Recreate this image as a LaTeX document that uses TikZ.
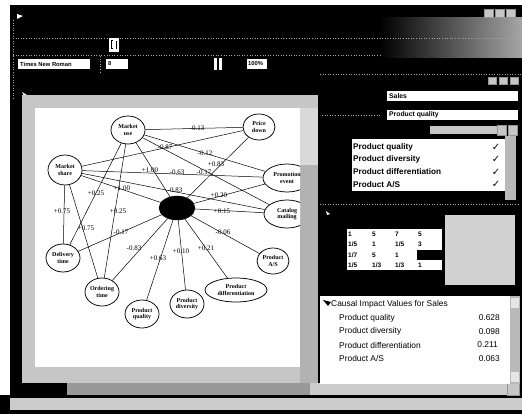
\documentclass[tikz,border=0pt]{standalone}
\usepackage{fontspec}
\setmainfont{Liberation Serif}
\setsansfont{Liberation Sans}
\newfontfamily\symfont{DejaVu Sans}
\usetikzlibrary{shapes.geometric}
\begin{document}
\begin{tikzpicture}[x=1pt,y=-1pt,
  nd/.style={draw, ellipse, line width=0.75pt, fill=white, inner sep=0pt, align=center,
     font=\fontsize{6}{6.4}\selectfont\bfseries},
  lk/.style={line width=0.5pt},
  wt/.style={font=\fontsize{7}{7}\selectfont, inner sep=0pt},
  fld/.style={font=\sffamily\bfseries\fontsize{5.8}{6}\selectfont, anchor=west, inner sep=0pt},
  fldl/.style={font=\sffamily\bfseries\fontsize{6.8}{7}\selectfont, anchor=west, inner sep=0pt},
  chk/.style={font=\sffamily\bfseries\fontsize{8.2}{8.5}\selectfont, anchor=west, inner sep=0pt},
  mx/.style={font=\sffamily\bfseries\fontsize{6.5}{7}\selectfont, anchor=west, inner sep=0pt},
  civ/.style={font=\sffamily\fontsize{8.4}{9}\selectfont, anchor=west, inner sep=0pt},
  cnum/.style={font=\sffamily\fontsize{8.4}{9}\selectfont, anchor=east, inner sep=0pt},
  btn/.style={draw=gray!85, fill=gray!45, line width=0.4pt},
  sep/.style={gray!70, dotted, line width=0.6pt}]
\useasboundingbox (0,0) rectangle (522,414);

% ---------- window background ----------
\fill[black] (0,0) rectangle (522,414);
\fill[white] (0,0) rectangle (522,5);
\fill[white] (0,0) rectangle (10,395);
\shade[left color=black, right color=gray!70] (380,18) rectangle (522,58);
\foreach \x in {484,495,506} \draw[btn] (\x,9) rectangle +(9,8);
\fill[white] (17,14) -- (23,16) -- (17,19) -- cycle;

% ---------- toolbars ----------
\draw[sep] (13,38) -- (520,38);
\draw[sep] (13,55) -- (380,55);
\draw[sep] (13,20) -- (13,100);
\fill[white] (109,38) rectangle (119,52);
\draw[black, line width=1pt] (113,41) -- (111,41) -- (111,49) -- (113,49);
\draw[black, line width=1pt] (116,41) -- (116,49);
\draw[sep] (100,56) -- (100,72);
\fill[white] (18,59) rectangle (90,69);
\node[fld] (fontname) at (20,64) {Times New Roman};
\fill[white] (106,59) rectangle (128,69);
\node[fld] (fontsize) at (108,64) {8};
\fill[white] (214,58) rectangle (217,70);
\fill[white] (219,58) rectangle (222,70);
\fill[white] (247,59) rectangle (267,69);
\node[fld] (zoomval) at (248,64) {100\%};
\fill[white] (22,92) -- (27,95) -- (24,96) -- cycle;

% ---------- diagram canvas ----------
\fill[gray!45] (22,95) rectangle (318,383);
\fill[gray!30] (300,108) rectangle (318,165);
\fill[gray!60] (300,165) rectangle (318,383);
\fill[white] (35,108) rectangle (300,367);

\begin{scope}
\clip (35,108) rectangle (300,367);
\node[nd, minimum width=34, minimum height=28] (mu) at (128,130) {Market\\use};
\node[nd, minimum width=32, minimum height=26] (pd) at (259,127) {Price\\down};
\node[nd, minimum width=34, minimum height=30] (ms) at (65,170) {Market\\share};
\node[nd, minimum width=48, minimum height=28] (pe) at (287,178) {Promotion\\event};
\node[nd, minimum width=46, minimum height=28] (cm) at (287,214) {Catalog\\mailing};
\node[draw, ellipse, fill=black, minimum width=36, minimum height=24, inner sep=0pt] (sales) at (177,208) {};
\node[nd, minimum width=34, minimum height=28] (dt) at (63,258) {Delivery\\time};
\node[nd, minimum width=34, minimum height=28] (ot) at (102,292) {Ordering\\time};
\node[nd, minimum width=34, minimum height=28] (pq) at (142,314) {Product\\quality};
\node[nd, minimum width=34, minimum height=28] (pv) at (187,304) {Product\\diversity};
\node[nd, minimum width=62, minimum height=24] (pf) at (236,290) {Product\\differentiation};
\node[nd, minimum width=32, minimum height=26] (pa) at (273,261) {Product\\A/S};

\draw[lk] (mu) -- (pd);
\draw[lk] (ms) -- (pd);
\draw[lk] (mu) -- (pe);
\draw[lk] (mu) -- (cm);
\draw[lk] (pd) -- (sales);
\draw[lk] (mu) -- (sales);
\draw[lk] (ms) -- (pe);
\draw[lk] (ms) -- (sales);
\draw[lk] (ms) -- (cm);
\draw[lk] (ms) -- (dt);
\draw[lk] (ms) -- (ot);
\draw[lk] (mu) -- (dt);
\draw[lk] (mu) -- (ot);
\draw[lk] (sales) -- (pe);
\draw[lk] (sales) -- (cm);
\draw[lk] (sales) -- (dt);
\draw[lk] (sales) -- (ot);
\draw[lk] (sales) -- (pq);
\draw[lk] (sales) -- (pv);
\draw[lk] (sales) -- (pf);
\draw[lk] (sales) -- (pa);

\node[wt] (w1) at (197,128) {-0.13};
\node[wt] (w2) at (165,147) {-0.87};
\node[wt] (w3) at (205,153) {-0.12};
\node[wt] (w4) at (216,164) {+0.83};
\node[wt] (w5) at (150,170) {+1.00};
\node[wt] (w6) at (177,172) {-0.63};
\node[wt] (w7) at (204,172) {-0.17};
\node[wt] (w8) at (122,188) {+1.00};
\node[wt] (w9) at (96,193) {+0.25};
\node[wt] (w10) at (175,190) {-0.83};
\node[wt] (w11) at (219,195) {+0.20};
\node[wt] (w12) at (62,211) {+0.75};
\node[wt] (w13) at (118,211) {+0.25};
\node[wt] (w14) at (222,211) {+0.15};
\node[wt] (w15) at (86,228) {+0.75};
\node[wt] (w16) at (121,232) {-0.17};
\node[wt] (w17) at (223,232) {-0.06};
\node[wt] (w18) at (134,248) {-0.83};
\node[wt] (w19) at (206,248) {+0.21};
\node[wt] (w20) at (181,251) {+0.10};
\node[wt] (w21) at (158,258) {+0.63};
\end{scope}

% ---------- scroll bars under the canvas ----------
\fill[black] (10,383) rectangle (67,395);
\fill[gray!80] (67,383) rectangle (310,395);
\fill[gray!40] (310,383) rectangle (507,395);
\draw[btn] (507,383) rectangle (519,395);
\fill[gray!40] (10,398) rectangle (522,410);

% ---------- right-hand panel ----------
\draw[sep] (320,74) -- (522,74);
\foreach \x in {488,499,510} \draw[btn] (\x,77) rectangle +(8,7);
\fill[white] (387,91) rectangle (518,101);
\node[fldl] (target) at (389,96) {Sales};
\draw[sep] (322,115) -- (380,115);
\fill[white] (387,110) rectangle (518,120);
\node[fldl] (factor) at (389,115) {Product quality};
\fill[gray!45] (430,126) rectangle (500,134);
\draw[btn] (497,125) rectangle (506,135);
\draw[btn] (508,125) rectangle (517,135);

\fill[gray!55] (505,136) rectangle (516,200);
\fill[white] (352,139) rectangle (505,191);
\node[chk] (c1) at (353,147) {Product quality};
\node[chk] (c2) at (353,159.5) {Product diversity};
\node[chk] (c3) at (353,172) {Product differentiation};
\node[chk] (c4) at (353,184.5) {Product A/S};
\foreach \y in {147,159.5,172,184.5}
  \node[font=\symfont\bfseries\fontsize{10}{10}\selectfont, inner sep=0pt] at (496,\y) {✓};

\draw[sep] (320,204) -- (518,204);
\fill[white] (326,211) -- (330,214) -- (327,215) -- cycle;

% pairwise comparison matrix
\fill[gray!35] (445,215) rectangle (515,285);
\fill[white] (347,229) rectangle (442,270);
\fill[black] (417,249.5) rectangle (442,260);
\node[mx] (m11) at (348,234) {1};
\node[mx] (m12) at (372,234) {5};
\node[mx] (m13) at (395,234) {7};
\node[mx] (m14) at (418,234) {5};
\node[mx] (m21) at (348,244.5) {1/5};
\node[mx] (m22) at (372,244.5) {1};
\node[mx] (m23) at (395,244.5) {1/5};
\node[mx] (m24) at (418,244.5) {3};
\node[mx] (m31) at (348,255) {1/7};
\node[mx] (m32) at (372,255) {5};
\node[mx] (m33) at (395,255) {1};
\node[mx] (m41) at (348,265.5) {1/5};
\node[mx] (m42) at (372,265.5) {1/3};
\node[mx] (m43) at (395,265.5) {1/3};
\node[mx] (m44) at (418,265.5) {1};

% causal impact list
\fill[gray!55] (510,296) rectangle (520,384);
\fill[gray!20] (511,298) rectangle (519,308);
\fill[gray!20] (511,372) rectangle (519,382);
\fill[white] (320,296) rectangle (510,384);
\fill[black] (323,300) -- (331,302) -- (328,306) -- cycle;
\node[civ] (ct) at (331,304) {Causal Impact Values for Sales};
\node[civ] (r1) at (339,318) {Product quality};
\node[civ] (r2) at (339,331.5) {Product diversity};
\node[civ] (r3) at (339,345) {Product differentiation};
\node[civ] (r4) at (339,358.5) {Product A/S};
\node[cnum] (v1) at (500,318) {0.628};
\node[cnum] (v2) at (500,331.5) {0.098};
\node[cnum] (v3) at (498,345) {0.211};
\node[cnum] (v4) at (500,358.5) {0.063};
\end{tikzpicture}
\end{document}
